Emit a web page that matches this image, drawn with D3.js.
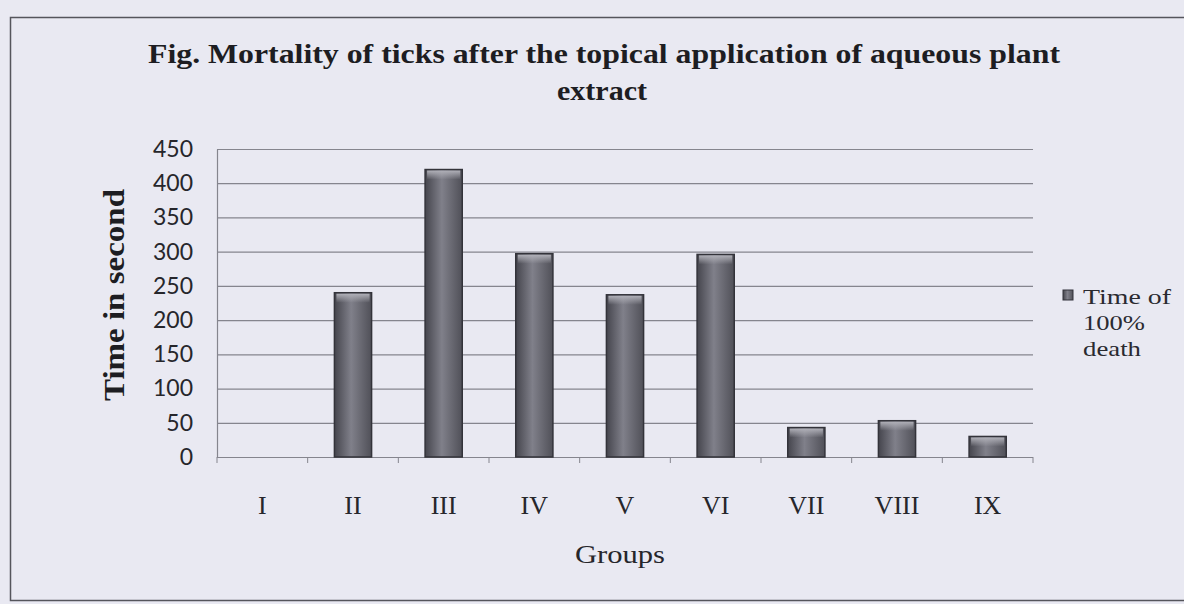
<!DOCTYPE html>
<html>
<head>
<meta charset="utf-8">
<script src="https://cdn.jsdelivr.net/npm/d3@7/dist/d3.min.js"></script>
<style>
  body { margin: 0; background: #e9e9f2; }
  svg { display: block; }
</style>
</head>
<body>
<script>
// chart values
const groups = ["I", "II", "III", "IV", "V", "VI", "VII", "VIII", "IX"];
const deathTime = [0, 240, 420, 297, 237, 296, 43, 53, 30];
const yTicks = [0, 50, 100, 150, 200, 250, 300, 350, 400, 450];
const legendLines = ["Time of", "100%", "death"];
const legendWidths = [88, 62, 58];

const width = 1184, height = 604;
const margin = {top: 149, right: 151, bottom: 147, left: 217};

const svg = d3.select("body").append("svg")
    .attr("width", width)
    .attr("height", height);

const defs = svg.append("defs");
const grad = defs.append("linearGradient").attr("id", "barFill")
    .attr("x1", "0%").attr("x2", "100%").attr("y1", "0%").attr("y2", "0%");
grad.append("stop").attr("offset", "0%").attr("stop-color", "#45454d");
grad.append("stop").attr("offset", "45%").attr("stop-color", "#80808a");
grad.append("stop").attr("offset", "100%").attr("stop-color", "#505058");
const topGrad = defs.append("linearGradient").attr("id", "barTop")
    .attr("x1", "0%").attr("x2", "0%").attr("y1", "0%").attr("y2", "100%");
topGrad.append("stop").attr("offset", "0%").attr("stop-color", "#b0b0b8");
topGrad.append("stop").attr("offset", "100%").attr("stop-color", "#b0b0b8").attr("stop-opacity", 0);

// chart frame
svg.append("rect")
    .attr("x", 10.5).attr("y", 17.5)
    .attr("width", 1180).attr("height", 583)
    .attr("fill", "#e9e9f2")
    .attr("stroke", "#55555c")
    .attr("stroke-width", 1.5);

const x = d3.scaleBand()
    .domain(groups)
    .range([margin.left, width - margin.right])
    .paddingInner(0.59)
    .paddingOuter(0.295);

const y = d3.scaleLinear()
    .domain([0, 450])
    .range([height - margin.bottom, margin.top]);

// gridlines
svg.append("g")
    .selectAll("line")
    .data(yTicks.filter(d => d > 0))
    .join("line")
    .attr("x1", margin.left).attr("x2", width - margin.right)
    .attr("y1", d => y(d) + 0.5).attr("y2", d => y(d) + 0.5)
    .attr("stroke", "#85858e")
    .attr("stroke-width", 1.2);

// y axis
const yAxis = svg.append("g")
    .attr("transform", `translate(${margin.left},0)`)
    .call(d3.axisLeft(y).tickValues(yTicks).tickSize(0).tickPadding(24));
yAxis.select(".domain").attr("stroke", "#85858e").attr("stroke-width", 1.2);
yAxis.selectAll("text")
    .attr("font-family", "Lato, 'Liberation Sans', sans-serif")
    .attr("font-size", 23)
    .attr("fill", "#26262b");

// x axis, ticks between categories
const step = x.step();
const xAxis = svg.append("g")
    .attr("transform", `translate(0,${y(0)})`);
xAxis.append("line")
    .attr("x1", margin.left).attr("x2", width - margin.right)
    .attr("y1", 0.5).attr("y2", 0.5)
    .attr("stroke", "#85858e").attr("stroke-width", 1.2);
xAxis.selectAll("line.tk")
    .data(d3.range(groups.length + 1))
    .join("line")
    .attr("class", "tk")
    .attr("x1", i => margin.left + i * step).attr("x2", i => margin.left + i * step)
    .attr("y1", 0).attr("y2", 6)
    .attr("stroke", "#85858e");
xAxis.selectAll("text")
    .data(groups)
    .join("text")
    .attr("x", d => x(d) + x.bandwidth() / 2)
    .attr("y", 57)
    .attr("text-anchor", "middle")
    .attr("font-family", "'Liberation Serif', serif")
    .attr("font-size", 26)
    .attr("fill", "#26262b")
    .text(d => d);

// bars
const bars = svg.append("g").selectAll("g")
    .data(groups.map((g, i) => ({g, v: deathTime[i]})).filter(d => d.v > 0))
    .join("g");
bars.append("rect")
    .attr("x", d => x(d.g))
    .attr("y", d => y(d.v))
    .attr("width", x.bandwidth())
    .attr("height", d => y(0) - y(d.v))
    .attr("fill", "url(#barFill)")
    .attr("stroke", "#33333a")
    .attr("stroke-width", 1.5);
bars.append("rect")
    .attr("x", d => x(d.g) + 2)
    .attr("y", d => y(d.v) + 1)
    .attr("width", x.bandwidth() - 4)
    .attr("height", 9)
    .attr("fill", "url(#barTop)");

// title
const title = svg.append("g")
    .attr("font-family", "'Liberation Serif', serif")
    .attr("font-weight", "bold")
    .attr("font-size", 28)
    .attr("fill", "#1d1d22")
    .attr("text-anchor", "middle");
title.append("text")
    .attr("x", 604).attr("y", 63)
    .attr("textLength", 912).attr("lengthAdjust", "spacingAndGlyphs")
    .text("Fig. Mortality of ticks after the topical application of aqueous plant");
title.append("text")
    .attr("x", 602).attr("y", 100)
    .attr("textLength", 90).attr("lengthAdjust", "spacingAndGlyphs")
    .text("extract");

// axis titles
svg.append("text")
    .attr("transform", `translate(124,${(y(0) + y(450)) / 2 - 8}) rotate(-90)`)
    .attr("text-anchor", "middle")
    .attr("font-family", "'Liberation Serif', serif")
    .attr("font-weight", "bold")
    .attr("font-size", 29)
    .attr("fill", "#1d1d22")
    .attr("textLength", 212).attr("lengthAdjust", "spacingAndGlyphs")
    .text("Time in second");

svg.append("text")
    .attr("x", 620).attr("y", 563)
    .attr("text-anchor", "middle")
    .attr("font-family", "'Liberation Serif', serif")
    .attr("font-size", 26)
    .attr("fill", "#26262b")
    .attr("textLength", 90).attr("lengthAdjust", "spacingAndGlyphs")
    .text("Groups");

// legend
const legend = svg.append("g").attr("transform", "translate(1063,290)");
legend.append("rect")
    .attr("width", 10).attr("height", 10)
    .attr("fill", "url(#barFill)")
    .attr("stroke", "#33333a");
legend.selectAll("text")
    .data(legendLines)
    .join("text")
    .attr("x", 20)
    .attr("y", (d, i) => 14 + i * 26)
    .attr("font-family", "'Liberation Serif', serif")
    .attr("font-size", 22)
    .attr("fill", "#2a2a30")
    .attr("textLength", (d, i) => legendWidths[i])
    .attr("lengthAdjust", "spacingAndGlyphs")
    .text(d => d);
</script>
</body>
</html>
